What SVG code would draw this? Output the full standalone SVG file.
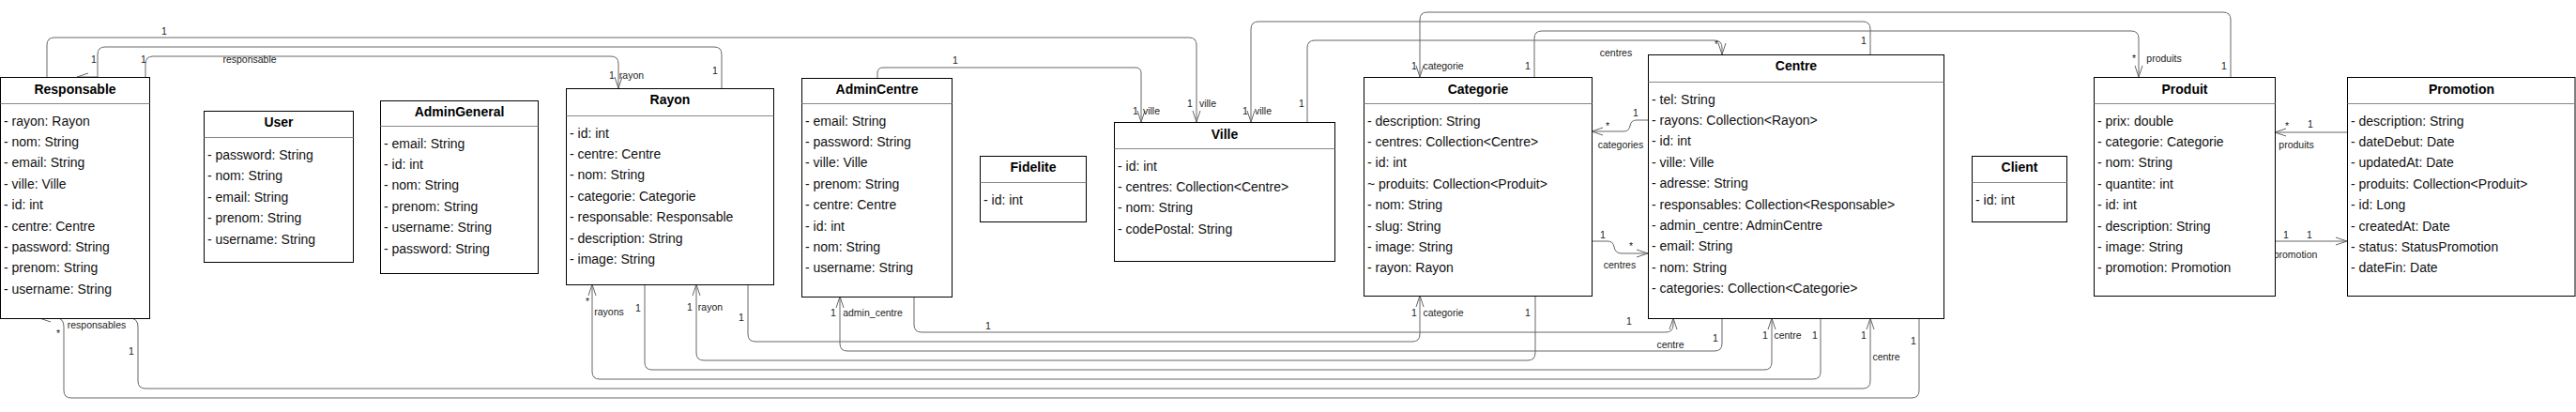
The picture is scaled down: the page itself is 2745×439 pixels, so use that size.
<svg xmlns="http://www.w3.org/2000/svg" width="2745" height="439" viewBox="0 0 2745 439">
<style>
.box{fill:#fff;stroke:#000;stroke-width:1}
.sep{stroke:#888;stroke-width:1}
.t{font-family:"Liberation Sans",Arial,Helvetica,sans-serif;font-size:14px;font-weight:bold;text-anchor:middle;fill:#000}
.a{font-family:"Liberation Sans",Arial,Helvetica,sans-serif;font-size:14px;fill:#111}
.e{fill:none;stroke:#666;stroke-width:1}
.l{font-family:"Liberation Sans",Arial,Helvetica,sans-serif;font-size:10.5px;fill:#222;text-anchor:middle}
</style>
<defs>
<marker id="arr" markerWidth="14" markerHeight="10" refX="12" refY="4" orient="auto" markerUnits="userSpaceOnUse" overflow="visible"><path d="M0,0 L12,4 L0,8" fill="none" stroke="#666" stroke-width="1"/></marker>
</defs>
<rect width="2745" height="439" fill="#fff"/>

<g id="connectors">
<!-- top -->
<path class="e" marker-end="url(#arr)" d="M50,82 V48 Q50,40 58,40 H1267 Q1275,40 1275,48 V130"/>
<path class="e" marker-end="url(#arr)" d="M769,94 V58 Q769,50 761,50 H112 Q104,50 104,58 V82 H82"/>
<path class="e" marker-end="url(#arr)" d="M155,82 V68 Q155,60 163,60 H651 Q659,60 659,68 V94"/>
<path class="e" marker-end="url(#arr)" d="M935,83 V78 Q935,72 941,72 H1210 Q1216,72 1216,78 V130"/>
<path class="e" marker-end="url(#arr)" d="M1993,58 V31 Q1993,23 1985,23 H1341 Q1333,23 1333,31 V130"/>
<path class="e" marker-end="url(#arr)" d="M1393,130 V51 Q1393,43 1401,43 H1827 Q1835,43 1835,51 V58"/>
<path class="e" marker-end="url(#arr)" d="M2377,82 V21 Q2377,13 2369,13 H1521 Q1513,13 1513,21 V82"/>
<path class="e" marker-end="url(#arr)" d="M1635,82 V41 Q1635,33 1643,33 H2271 Q2279,33 2279,41 V82"/>
<!-- side -->
<path class="e" marker-end="url(#arr)" d="M1756,128 H1744 Q1738,128 1737,134 Q1736,140 1730,140 H1696"/>
<path class="e" marker-end="url(#arr)" d="M1696,257 H1713 Q1719,257 1720,263 Q1721,270 1728,270 H1756"/>
<path class="e" marker-end="url(#arr)" d="M2501,141 H2424"/>
<path class="e" marker-end="url(#arr)" d="M2424,257 H2501"/>
<!-- bottom -->
<path class="e" marker-end="url(#arr)" d="M974,316 V346 Q974,354 982,354 H1775 Q1783,354 1783,346 V339"/>
<path class="e" marker-end="url(#arr)" d="M797,303 V356 Q797,364 805,364 H1505 Q1513,364 1513,356 V315"/>
<path class="e" marker-end="url(#arr)" d="M1835,339 V366 Q1835,374 1827,374 H903 Q895,374 895,366 V316"/>
<path class="e" marker-end="url(#arr)" d="M1636,315 V376 Q1636,384 1628,384 H750 Q742,384 742,376 V303"/>
<path class="e" marker-end="url(#arr)" d="M687,303 V386 Q687,394 695,394 H1880 Q1888,394 1888,386 V339"/>
<path class="e" marker-end="url(#arr)" d="M1940,339 V396 Q1940,404 1932,404 H639 Q631,404 631,396 V303"/>
<path class="e" marker-end="url(#arr)" d="M138,339 Q147,339 147,348 V406 Q147,414 155,414 H1985 Q1993,414 1993,406 V339"/>
<path class="e" marker-end="url(#arr)" d="M2045,339 V416 Q2045,424 2037,424 H76 Q68,424 68,416 V348 Q68,339 60,339 H42"/>
<!-- labels -->
<text class="l" x="175" y="37">1</text>
<text class="l" x="100" y="67">1</text>
<text class="l" x="153" y="67">1</text>
<text class="l" x="266" y="67">responsable</text>
<text class="l" x="652" y="84">1</text>
<text class="l" x="673" y="84">rayon</text>
<text class="l" x="762" y="79">1</text>
<text class="l" x="1018" y="68">1</text>
<text class="l" x="1210" y="122">1</text>
<text class="l" x="1227" y="122">ville</text>
<text class="l" x="1268" y="114">1</text>
<text class="l" x="1287" y="114">ville</text>
<text class="l" x="1327" y="122">1</text>
<text class="l" x="1346" y="122">ville</text>
<text class="l" x="1387" y="114">1</text>
<text class="l" x="1507" y="74">1</text>
<text class="l" x="1538" y="74">categorie</text>
<text class="l" x="1628" y="74">1</text>
<text class="l" x="1722" y="60">centres</text>
<text class="l" x="1829" y="51">*</text>
<text class="l" x="1986" y="47">1</text>
<text class="l" x="2274" y="66">*</text>
<text class="l" x="2306" y="66">produits</text>
<text class="l" x="2370" y="74">1</text>
<text class="l" x="1743" y="124">1</text>
<text class="l" x="1713" y="138">*</text>
<text class="l" x="1727" y="158">categories</text>
<text class="l" x="1708" y="254">1</text>
<text class="l" x="1738" y="266">*</text>
<text class="l" x="1726" y="286">centres</text>
<text class="l" x="2437" y="138">*</text>
<text class="l" x="2462" y="136">1</text>
<text class="l" x="2447" y="158">produits</text>
<text class="l" x="2436" y="254">1</text>
<text class="l" x="2461" y="254">1</text>
<text class="l" x="2446" y="275">promotion</text>
<text class="l" x="62" y="359">*</text>
<text class="l" x="103" y="350">responsables</text>
<text class="l" x="140" y="378">1</text>
<text class="l" x="626" y="325">*</text>
<text class="l" x="649" y="336">rayons</text>
<text class="l" x="680" y="332">1</text>
<text class="l" x="735" y="331">1</text>
<text class="l" x="757" y="331">rayon</text>
<text class="l" x="790" y="342">1</text>
<text class="l" x="888" y="337">1</text>
<text class="l" x="930" y="337">admin_centre</text>
<text class="l" x="1053" y="351">1</text>
<text class="l" x="1507" y="337">1</text>
<text class="l" x="1538" y="337">categorie</text>
<text class="l" x="1628" y="337">1</text>
<text class="l" x="1736" y="346">1</text>
<text class="l" x="1780" y="371">centre</text>
<text class="l" x="1828" y="364">1</text>
<text class="l" x="1881" y="361">1</text>
<text class="l" x="1905" y="361">centre</text>
<text class="l" x="1934" y="361">1</text>
<text class="l" x="1986" y="361">1</text>
<text class="l" x="2010" y="384">centre</text>
<text class="l" x="2039" y="367">1</text>
</g>

<g id="Responsable">
<rect class="box" x="0.5" y="82.5" width="159" height="257"/>
<line class="sep" x1="0.5" y1="110.5" x2="159.5" y2="110.5"/>
<text class="t" x="80" y="100">Responsable</text>
<text class="a" x="4" y="134">- rayon: Rayon</text>
<text class="a" x="4" y="156">- nom: String</text>
<text class="a" x="4" y="178">- email: String</text>
<text class="a" x="4" y="201">- ville: Ville</text>
<text class="a" x="4" y="223">- id: int</text>
<text class="a" x="4" y="246">- centre: Centre</text>
<text class="a" x="4" y="268">- password: String</text>
<text class="a" x="4" y="290">- prenom: String</text>
<text class="a" x="4" y="313">- username: String</text>
</g>

<g id="User">
<rect class="box" x="217.5" y="118.5" width="159" height="161"/>
<line class="sep" x1="217.5" y1="146.5" x2="376.5" y2="146.5"/>
<text class="t" x="297" y="135">User</text>
<text class="a" x="221" y="170">- password: String</text>
<text class="a" x="221" y="192">- nom: String</text>
<text class="a" x="221" y="215">- email: String</text>
<text class="a" x="221" y="237">- prenom: String</text>
<text class="a" x="221" y="260">- username: String</text>
</g>

<g id="AdminGeneral">
<rect class="box" x="405.5" y="107.5" width="168" height="184"/>
<line class="sep" x1="405.5" y1="134.5" x2="573.5" y2="134.5"/>
<text class="t" x="489.5" y="124">AdminGeneral</text>
<text class="a" x="409" y="158">- email: String</text>
<text class="a" x="409" y="180">- id: int</text>
<text class="a" x="409" y="202">- nom: String</text>
<text class="a" x="409" y="225">- prenom: String</text>
<text class="a" x="409" y="247">- username: String</text>
<text class="a" x="409" y="270">- password: String</text>
</g>

<g id="Rayon">
<rect class="box" x="603.5" y="94.5" width="221" height="209"/>
<line class="sep" x1="603.5" y1="123.5" x2="824.5" y2="123.5"/>
<text class="t" x="714" y="111">Rayon</text>
<text class="a" x="607" y="147">- id: int</text>
<text class="a" x="607" y="169">- centre: Centre</text>
<text class="a" x="607" y="191">- nom: String</text>
<text class="a" x="607" y="214">- categorie: Categorie</text>
<text class="a" x="607" y="236">- responsable: Responsable</text>
<text class="a" x="607" y="259">- description: String</text>
<text class="a" x="607" y="281">- image: String</text>
</g>

<g id="AdminCentre">
<rect class="box" x="854.5" y="83.5" width="160" height="233"/>
<line class="sep" x1="854.5" y1="110.5" x2="1014.5" y2="110.5"/>
<text class="t" x="934.5" y="100">AdminCentre</text>
<text class="a" x="858" y="134">- email: String</text>
<text class="a" x="858" y="156">- password: String</text>
<text class="a" x="858" y="178">- ville: Ville</text>
<text class="a" x="858" y="201">- prenom: String</text>
<text class="a" x="858" y="223">- centre: Centre</text>
<text class="a" x="858" y="246">- id: int</text>
<text class="a" x="858" y="268">- nom: String</text>
<text class="a" x="858" y="290">- username: String</text>
</g>

<g id="Fidelite">
<rect class="box" x="1044.5" y="166.5" width="113" height="70"/>
<line class="sep" x1="1044.5" y1="194.5" x2="1157.5" y2="194.5"/>
<text class="t" x="1101" y="183">Fidelite</text>
<text class="a" x="1048" y="218">- id: int</text>
</g>

<g id="Ville">
<rect class="box" x="1187.5" y="130.5" width="235" height="148"/>
<line class="sep" x1="1187.5" y1="158.5" x2="1422.5" y2="158.5"/>
<text class="t" x="1305" y="148">Ville</text>
<text class="a" x="1191" y="182">- id: int</text>
<text class="a" x="1191" y="204">- centres: Collection&lt;Centre&gt;</text>
<text class="a" x="1191" y="226">- nom: String</text>
<text class="a" x="1191" y="249">- codePostal: String</text>
</g>

<g id="Categorie">
<rect class="box" x="1453.5" y="82.5" width="243" height="233"/>
<line class="sep" x1="1453.5" y1="110.5" x2="1696.5" y2="110.5"/>
<text class="t" x="1575" y="100">Categorie</text>
<text class="a" x="1457" y="134">- description: String</text>
<text class="a" x="1457" y="156">- centres: Collection&lt;Centre&gt;</text>
<text class="a" x="1457" y="178">- id: int</text>
<text class="a" x="1457" y="201">~ produits: Collection&lt;Produit&gt;</text>
<text class="a" x="1457" y="223">- nom: String</text>
<text class="a" x="1457" y="246">- slug: String</text>
<text class="a" x="1457" y="268">- image: String</text>
<text class="a" x="1457" y="290">- rayon: Rayon</text>
</g>

<g id="Centre">
<rect class="box" x="1756.5" y="58.5" width="315" height="281"/>
<line class="sep" x1="1756.5" y1="87.5" x2="2071.5" y2="87.5"/>
<text class="t" x="1914" y="75">Centre</text>
<text class="a" x="1760" y="111">- tel: String</text>
<text class="a" x="1760" y="133">- rayons: Collection&lt;Rayon&gt;</text>
<text class="a" x="1760" y="155">- id: int</text>
<text class="a" x="1760" y="178">- ville: Ville</text>
<text class="a" x="1760" y="200">- adresse: String</text>
<text class="a" x="1760" y="223">- responsables: Collection&lt;Responsable&gt;</text>
<text class="a" x="1760" y="245">- admin_centre: AdminCentre</text>
<text class="a" x="1760" y="267">- email: String</text>
<text class="a" x="1760" y="290">- nom: String</text>
<text class="a" x="1760" y="312">- categories: Collection&lt;Categorie&gt;</text>
</g>

<g id="Client">
<rect class="box" x="2101.5" y="166.5" width="101" height="70"/>
<line class="sep" x1="2101.5" y1="194.5" x2="2202.5" y2="194.5"/>
<text class="t" x="2152" y="183">Client</text>
<text class="a" x="2105" y="218">- id: int</text>
</g>

<g id="Produit">
<rect class="box" x="2231.5" y="82.5" width="193" height="233"/>
<line class="sep" x1="2231.5" y1="110.5" x2="2424.5" y2="110.5"/>
<text class="t" x="2328" y="100">Produit</text>
<text class="a" x="2235" y="134">- prix: double</text>
<text class="a" x="2235" y="156">- categorie: Categorie</text>
<text class="a" x="2235" y="178">- nom: String</text>
<text class="a" x="2235" y="201">- quantite: int</text>
<text class="a" x="2235" y="223">- id: int</text>
<text class="a" x="2235" y="246">- description: String</text>
<text class="a" x="2235" y="268">- image: String</text>
<text class="a" x="2235" y="290">- promotion: Promotion</text>
</g>

<g id="Promotion">
<rect class="box" x="2501.5" y="82.5" width="242.5" height="233"/>
<line class="sep" x1="2501.5" y1="110.5" x2="2744" y2="110.5"/>
<text class="t" x="2623" y="100">Promotion</text>
<text class="a" x="2505" y="134">- description: String</text>
<text class="a" x="2505" y="156">- dateDebut: Date</text>
<text class="a" x="2505" y="178">- updatedAt: Date</text>
<text class="a" x="2505" y="201">- produits: Collection&lt;Produit&gt;</text>
<text class="a" x="2505" y="223">- id: Long</text>
<text class="a" x="2505" y="246">- createdAt: Date</text>
<text class="a" x="2505" y="268">- status: StatusPromotion</text>
<text class="a" x="2505" y="290">- dateFin: Date</text>
</g>
</svg>
